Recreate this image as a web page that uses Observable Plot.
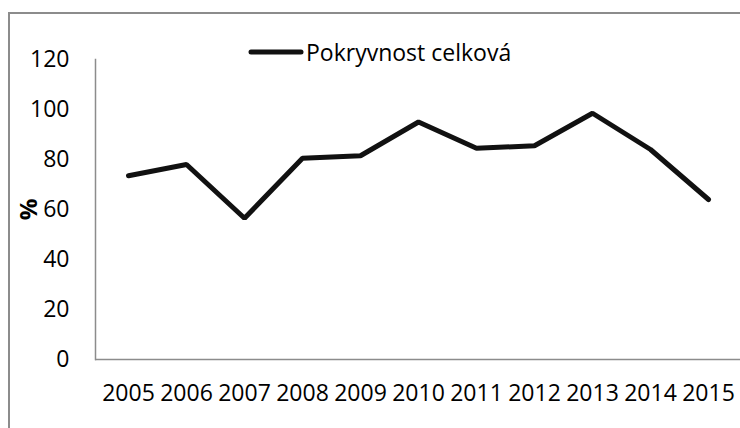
<!DOCTYPE html>
<html>
<head>
<meta charset="utf-8">
<script src="https://cdn.jsdelivr.net/npm/d3@7"></script>
<script src="https://cdn.jsdelivr.net/npm/@observablehq/plot@0.6"></script>
<style>
  html, body { margin: 0; padding: 0; background: #fff; overflow: hidden; }
  #wrap { position: relative; width: 740px; height: 428px; overflow: hidden; font-family: "Open Sans", sans-serif; }
  #border { position: absolute; left: 8px; top: 12px; width: 900px; height: 600px; border: 2px solid #8c8c8c; box-sizing: border-box; pointer-events: none; }
  #legend { position: absolute; left: 248px; top: 36px; display: flex; align-items: center; font-size: 23px; color: #000; white-space: nowrap; }
  #legend svg { display: block; margin-right: 2px; }
  #chart svg { display: block; }
</style>
</head>
<body>
<div id="wrap">
  <div id="chart"></div>
  <div id="border"></div>
  <div id="legend"></div>
</div>
<script>
// Celková pokryvnost (%) podle let
const years = ["2005", "2006", "2007", "2008", "2009", "2010", "2011", "2012", "2013", "2014", "2015"];
const cover = [73.5, 78, 56.5, 80.5, 81.5, 95, 84.5, 85.5, 98.5, 84, 64];
const yTicks = [0, 20, 40, 60, 80, 100, 120];
const seriesName = "Pokryvnost celková";
const yLabel = "%";

const rows = years.map((y, i) => ({year: y, value: cover[i]}));

const chart = Plot.plot({
  width: 740,
  height: 428,
  marginLeft: 95,
  marginRight: 0,
  marginTop: 59,
  marginBottom: 69,
  style: {fontFamily: "Open Sans, sans-serif", fontSize: "23px", color: "#000", background: "transparent"},
  x: {type: "point", domain: years, padding: 0.5},
  y: {domain: [0, 120]},
  marks: [
    Plot.axisY({ticks: yTicks, tickSize: 0, tickPadding: 26, label: null, fontSize: 23}),
    Plot.axisX({tickSize: 0, tickPadding: 25, label: null, fontSize: 23}),
    Plot.frame({anchor: "left", stroke: "#8c8c8c", strokeWidth: 1.5}),
    Plot.ruleY([0], {stroke: "#8c8c8c", strokeWidth: 1.5}),
    Plot.line(rows, {x: "year", y: "value", stroke: "#111", strokeWidth: 5, strokeLinecap: "round", strokeLinejoin: "miter"}),
    Plot.text([yLabel], {frameAnchor: "left", dx: -66, rotate: -90, textAnchor: "middle", fontSize: 24, fontWeight: "bold", fill: "#000"})
  ]
});
document.getElementById("chart").appendChild(chart);

// Legend entry: line sample + series name
const legend = document.getElementById("legend");
legend.innerHTML = `<svg width="56" height="10"><line x1="3" y1="5" x2="53" y2="5" stroke="#111" stroke-width="5" stroke-linecap="round"/></svg><span>${seriesName}</span>`;
</script>
</body>
</html>
